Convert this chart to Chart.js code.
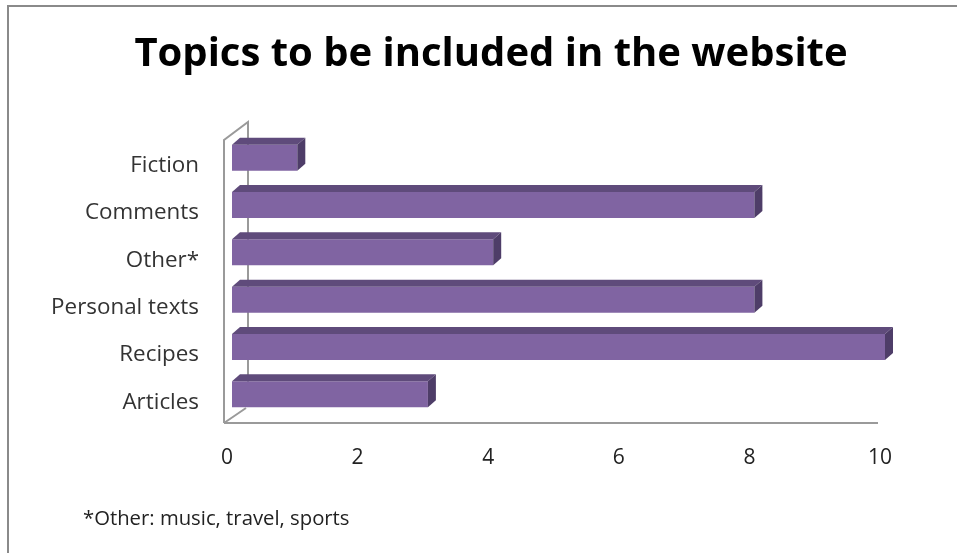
<!DOCTYPE html>
<html>
<head>
<meta charset="utf-8">
<script src="https://cdn.jsdelivr.net/npm/chart.js@4.4.0/dist/chart.umd.min.js"></script>
<style>
  html, body { margin: 0; padding: 0; background: #fff; overflow: hidden; }
  #wrap { position: relative; width: 957px; height: 553px; }
  #note {
    position: absolute; left: 83px; top: 503px;
    font-family: "Open Sans", sans-serif; font-size: 20.3px; color: #222;
    white-space: nowrap;
  }
</style>
</head>
<body>
<div id="wrap">
  <canvas id="topicsChart" width="957" height="553"></canvas>
  <div id="note">*Other: music, travel, sports</div>
</div>
<script>
var topicLabels = ['Fiction', 'Comments', 'Other*', 'Personal texts', 'Recipes', 'Articles'];
var topicCounts = [1, 8, 4, 8, 10, 3];
var xTicks = [0, 2, 4, 6, 8, 10];

var frontColor = '#8064a2';
var topColor = '#5f4b7b';
var sideColor = '#4e3d68';
var wallColor = '#9a9a9a';

// depth of the fake 3d look
var barDepthX = 8, barDepthY = 7;

var frame3d = {
  id: 'frame3d',
  afterDraw: function(chart) {
    // outer frame: only left and top edges show in the crop
    var c = chart.ctx;
    c.save();
    c.fillStyle = '#fff';
    c.fillRect(940, 0, 17, 553);
    c.fillStyle = '#8a8a8a';
    c.fillRect(7, 5, 950, 2);
    c.fillRect(7, 5, 2, 548);
    c.restore();
  },
  beforeDatasetsDraw: function(chart) {
    var c = chart.ctx, a = chart.chartArea, xs = chart.scales.x;
    var x0 = xs.getPixelForValue(0), x10 = xs.getPixelForValue(10);
    var fl = x0 - 8, fb = a.bottom + 5, ft = a.top + 6;
    c.save();
    c.strokeStyle = wallColor;
    c.lineWidth = 2;
    c.beginPath();
    // front edge of wall, top, back edge, bottom diagonal
    c.moveTo(fl, fb);
    c.lineTo(fl, ft);
    c.lineTo(fl + 24, ft - 18);
    c.lineTo(fl + 24, fb - 16);
    c.moveTo(fl, fb);
    c.lineTo(fl + 22, fb - 15);
    // floor
    c.moveTo(fl, fb);
    c.lineTo(x10 - 7, fb);
    c.stroke();
    c.restore();
  },
  afterDatasetsDraw: function(chart) {
    var c = chart.ctx;
    var meta = chart.getDatasetMeta(0);
    c.save();
    meta.data.forEach(function(bar) {
      var p = bar.getProps(['x', 'y', 'base', 'height'], true);
      var top = p.y - p.height / 2, bot = p.y + p.height / 2;
      c.fillStyle = topColor;
      c.beginPath();
      c.moveTo(p.base, top);
      c.lineTo(p.base + barDepthX, top - barDepthY);
      c.lineTo(p.x + barDepthX, top - barDepthY);
      c.lineTo(p.x, top);
      c.closePath();
      c.fill();
      c.fillStyle = sideColor;
      c.beginPath();
      c.moveTo(p.x, top);
      c.lineTo(p.x + barDepthX, top - barDepthY);
      c.lineTo(p.x + barDepthX, bot - barDepthY);
      c.lineTo(p.x, bot);
      c.closePath();
      c.fill();
    });
    c.restore();
  }
};

var ctx = document.getElementById('topicsChart').getContext('2d');
var topicsChart = new Chart(ctx, {
  type: 'bar',
  data: {
    labels: topicLabels,
    datasets: [{
      data: topicCounts,
      backgroundColor: frontColor,
      borderWidth: 0,
      barPercentage: 0.55,
      categoryPercentage: 1
    }]
  },
  options: {
    indexAxis: 'y',
    responsive: false,
    animation: false,
    layout: { padding: { left: 25, right: 0, top: 0, bottom: 0 } },
    plugins: {
      legend: { display: false },
      tooltip: { enabled: false },
      title: {
        display: true,
        text: 'Topics to be included in the website',
        color: '#000',
        font: { family: 'Open Sans', size: 40, weight: 'bold', lineHeight: 1.2 },
        padding: { top: 31, bottom: 55 }
      }
    },
    scales: {
      x: {
        min: 0,
        max: 10,
        afterBuildTicks: function(s) { s.ticks = xTicks.map(function(v) { return { value: v }; }); },
        afterFit: function(s) { s.height = 135; },
        grid: { display: false, drawTicks: false },
        border: { display: false },
        ticks: {
          color: '#222',
          font: { family: 'Open Sans', size: 21 },
          padding: 27,
          labelOffset: -5,
          maxRotation: 0
        }
      },
      y: {
        afterFit: function(s) { s.width = 207; },
        grid: { display: false, drawTicks: false },
        border: { display: false },
        ticks: {
          color: '#333',
          font: { family: 'Open Sans', size: 22.4 },
          padding: 33,
          labelOffset: 8
        }
      },
      yRight: {
        position: 'right',
        display: true,
        afterFit: function(s) { s.width = 72; },
        grid: { display: false, drawTicks: false },
        border: { display: false },
        ticks: { display: false }
      }
    }
  },
  plugins: [frame3d]
});
</script>
</body>
</html>
